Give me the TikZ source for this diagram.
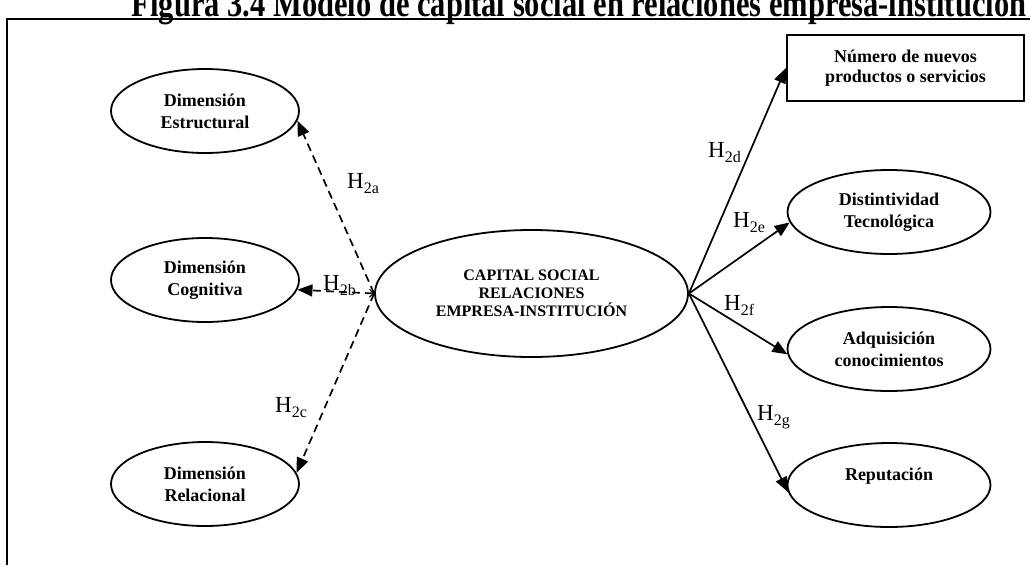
\documentclass[tikz,border=0pt]{standalone}
\usepackage{fontspec}
\setmainfont{Liberation Serif}
\usetikzlibrary{shapes.geometric,arrows.meta}
% hypothesis label: H with a lowered subscript
\newcommand{\hyplabel}[1]{H{\fontsize{16}{16}\selectfont\raisebox{-5pt}{#1}}}
\begin{document}
\begin{tikzpicture}[x=1pt,y=-1pt,
  dim/.style={ellipse,draw,line width=1.8pt,inner sep=0pt,
    minimum width=188pt,minimum height=84pt,align=center,
    font=\fontsize{18}{22}\selectfont\bfseries},
  outc/.style={dim,minimum width=203pt},
  hyp/.style={anchor=base west,inner sep=0pt,font=\fontsize{23}{23}\selectfont},
  link/.style={line width=1.7pt,-{Triangle[length=15pt,width=12pt]}},
  dlink/.style={link,dash pattern=on 8pt off 5pt}]
\useasboundingbox (0,0) rectangle (1030,565);

% caption, partly cut off at the top edge
\node[anchor=base,inner sep=0pt,font=\fontsize{30.5}{30.5}\selectfont\bfseries]
  (title) at (579,16) {\scalebox{1}[1.25]{Figura 3.4 Modelo de capital social en relaciones empresa-institución}};

% frame
\coordinate (fbl) at (6.5,565);
\coordinate (ftl) at (6.5,19);
\coordinate (ftr) at (1030,19);
\draw[line width=2pt] (fbl) -- (ftl) -- (ftr);

% central construct
\node[ellipse,draw,line width=1.8pt,inner sep=0pt,minimum width=313pt,minimum height=127pt,
  align=center,font=\fontsize{16}{18}\selectfont\bfseries]
  (cap) at (531.5,293.5) {CAPITAL SOCIAL\\RELACIONES\\EMPRESA-INSTITUCIÓN};

% dimensions
\node[dim] (est) at (205,111) {Dimensión\\Estructural};
\node[dim] (cog) at (205,280) {Dimensión\\Cognitiva};
\node[dim] (rel) at (205,484) {Dimensión\\Relacional};

% outcomes
\node[draw,line width=2.2pt,minimum width=237pt,minimum height=66pt,inner sep=0pt,align=center,
  font=\fontsize{18}{20}\selectfont\bfseries]
  (num) at (905.5,68) {Número de nuevos\\productos o servicios};
\node[outc] (dis) at (889,212) {Distintividad\\Tecnológica};
\node[outc] (adq) at (889,349) {Adquisición\\conocimientos};
\node[outc] (rep) at (889,485) {Reputación\\\mbox{}};

% dashed links to the dimensions
\draw[dlink] (cap.west) -- (est.-6);
\draw[dlink,{Straight Barb[length=4pt,width=8pt,line width=1pt]}-{Triangle[length=15pt,width=12pt]}]
  (cap.west) -- (cog.-6);
\draw[dlink] (cap.west) -- (rel.7);

% solid links to the outcomes
\draw[link] (cap.east) -- (num.west);
\draw[link] (cap.east) -- (dis.186);
\draw[link] (cap.east) -- (adq.183);
\draw[link] (cap.east) -- (rep.184);

% hypothesis labels
\node[hyp] (h2a) at (347,188) {\hyplabel{2a}};
\node[hyp] (h2b) at (323,290) {\hyplabel{2b}};
\node[hyp] (h2c) at (275,412) {\hyplabel{2c}};
\node[hyp] (h2d) at (708,157) {\hyplabel{2d}};
\node[hyp] (h2e) at (733,227) {\hyplabel{2e}};
\node[hyp] (h2f) at (724,310) {\hyplabel{2f}};
\node[hyp] (h2g) at (757,420) {\hyplabel{2g}};
\end{tikzpicture}
\end{document}
